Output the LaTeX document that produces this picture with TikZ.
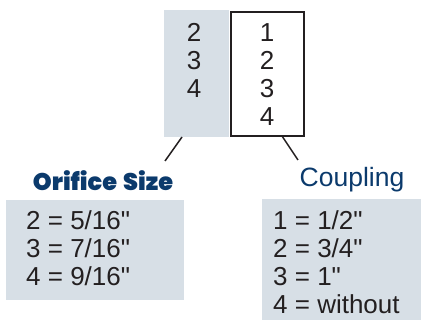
\documentclass[tikz,border=0pt]{standalone}
\usepackage{fontspec}
\setmainfont{Liberation Sans}
\newfontfamily\headfont{Poppins}[BoldFont={* Black}]
\usetikzlibrary{calc}
\definecolor{panel}{HTML}{D7DFE6}
\definecolor{navy}{HTML}{0B3A6C}
\definecolor{ink}{HTML}{231F20}
\newcommand\inch{\textquotedbl}

\begin{document}
\begin{tikzpicture}[x=1pt, y=1pt, every node/.style={inner sep=0pt, text=ink},
	list/.style={font=\fontsize{26}{28}\selectfont, align=left, anchor=north west},
	digits/.style={font=\fontsize{26}{28}\selectfont, align=center, anchor=north}]
	\useasboundingbox (0,0) rectangle (421,-320);
	% code boxes
	\fill[panel] (164,-10) rectangle (229,-137);
	\node[draw=ink, line width=2pt, minimum width=73pt, minimum height=124pt, anchor=north west] (cbox) at (230,-11) {};
	\node[digits] (sizes) at (194,-23) {2\\3\\4};
	\node[digits] (couplings) at (267,-23) {1\\2\\3\\4};
	% legends
	\fill[panel] (6,-200) rectangle (184,-300);
	\fill[panel] (262,-199) rectangle (421,-320);
	\node[list] (sizelist) at (26,-210) {2 = 5/16\inch\\3 = 7/16\inch\\4 = 9/16\inch};
	\node[list] (couplist) at (273,-210) {1 = 1/2\inch\\2 = 3/4\inch\\3 = 1\inch\\4 = without};
	\node[text=navy, font=\headfont\bfseries\fontsize{24}{26}\selectfont] (orifice) at (103,-181) {Orifice\hspace{2pt} Size};
	\node[text=navy, font=\fontsize{26.5}{28}\selectfont] (coupling) at (352,-180) {Coupling};
	% leaders
	\coordinate (sizefoot) at (182,-137);
	\coordinate (coupfoot) at (282,-136);
	\coordinate (sizeend) at (165,-161);
	\coordinate (coupend) at (298,-160);
	\draw[line width=1.5pt, ink] (sizefoot) -- (sizeend);
	\draw[line width=1.5pt, ink] (coupfoot) -- (coupend);
\end{tikzpicture}
\end{document}
